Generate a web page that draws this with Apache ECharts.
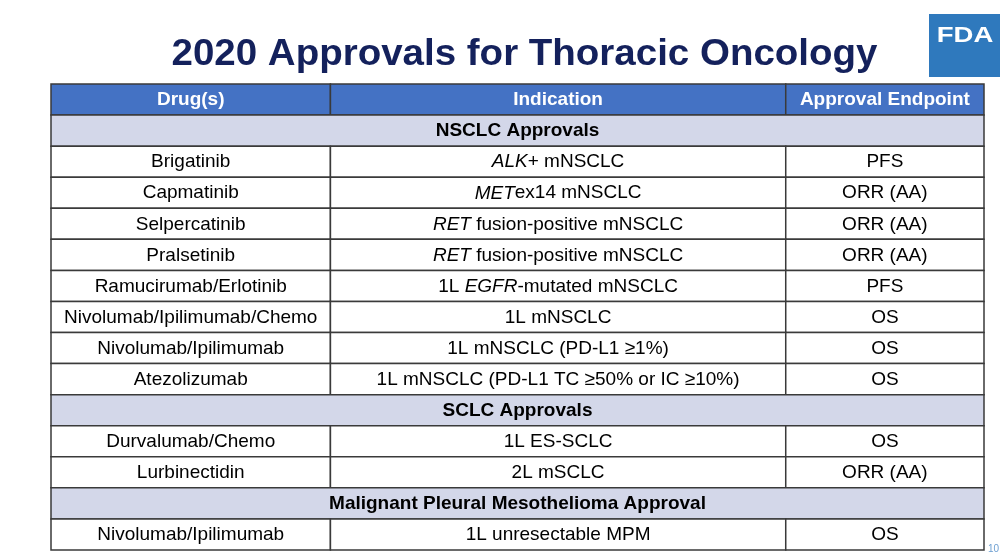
<!DOCTYPE html>
<html>
<head>
<meta charset="utf-8">
<script src="https://cdn.jsdelivr.net/npm/echarts@6/dist/echarts.min.js"></script>
<style>
html,body{margin:0;padding:0;background:#fff;}
#c{width:1004px;height:554px;}
</style>
</head>
<body>
<div id="c"></div>
<script>
// ---- data ----
const titleText = '2020 Approvals for Thoracic Oncology';
const headers = ['Drug(s)', 'Indication', 'Approval Endpoint'];
const sectionTitles = ['NSCLC Approvals', 'SCLC Approvals', 'Malignant Pleural Mesothelioma Approval'];
const drugs = [
  'Brigatinib', 'Capmatinib', 'Selpercatinib', 'Pralsetinib', 'Ramucirumab/Erlotinib',
  'Nivolumab/Ipilimumab/Chemo', 'Nivolumab/Ipilimumab', 'Atezolizumab',
  'Durvalumab/Chemo', 'Lurbinectidin',
  'Nivolumab/Ipilimumab'
];
const indications = [
  '{i|ALK}+ mNSCLC', '{i|MET}ex14 mNSCLC', '{i|RET} fusion-positive mNSCLC', '{i|RET} fusion-positive mNSCLC',
  '1L {i|EGFR}-mutated mNSCLC', '1L mNSCLC', '1L mNSCLC (PD-L1 \u22651%)', '1L mNSCLC (PD-L1 TC \u226550% or IC \u226510%)',
  '1L ES-SCLC', '2L mSCLC',
  '1L unresectable MPM'
];
const endpoints = [
  'PFS', 'ORR (AA)', 'ORR (AA)', 'ORR (AA)', 'PFS', 'OS', 'OS', 'OS',
  'OS', 'ORR (AA)',
  'OS'
];
const sectionOfDrug = [0, 0, 0, 0, 0, 0, 0, 0, 1, 1, 2];
const logoText = 'FDA';
const pageNumber = '10';

// ---- layout (column edges in percent of table width) ----
const colEdges = [0, 29.95, 78.75, 100];
const FONT = '"Liberation Sans", Arial, Helvetica, sans-serif';

// build cell list
const cells = [];
let row = 0;
headers.forEach((h, c) => cells.push({x0: colEdges[c], x1: colEdges[c + 1], row: row, kind: 'header', text: h}));
row++;
sectionTitles.forEach((s, si) => {
  cells.push({x0: 0, x1: 100, row: row, kind: 'section', text: s});
  row++;
  drugs.forEach((d, di) => {
    if (sectionOfDrug[di] !== si) return;
    const vals = [d, indications[di], endpoints[di]];
    vals.forEach((v, c) => cells.push({x0: colEdges[c], x1: colEdges[c + 1], row: row, kind: 'body', text: v}));
    row++;
  });
});
const totalRows = row;

const chart = echarts.init(document.getElementById('c'), null, {renderer: 'canvas'});
chart.setOption({
  animation: false,
  backgroundColor: '#ffffff',
  grid: {left: 51, right: 20, top: 84, bottom: 4},
  xAxis: {type: 'value', min: 0, max: 100, show: false},
  yAxis: {type: 'value', min: 0, max: totalRows, inverse: true, show: false},
  series: [{
    type: 'custom',
    coordinateSystem: 'cartesian2d',
    data: cells.map(c => [c.x0, c.x1, c.row]),
    renderItem: function (params, api) {
      const cell = cells[params.dataIndex];
      const p0 = api.coord([api.value(0), api.value(2)]);
      const p1 = api.coord([api.value(1), api.value(2) + 1]);
      const x = p0[0], y = p0[1], w = p1[0] - p0[0], h = p1[1] - p0[1];
      let fill = '#ffffff', color = '#000000', weight = 'normal';
      if (cell.kind === 'header') { fill = '#4472c4'; color = '#ffffff'; weight = 'bold'; }
      if (cell.kind === 'section') { fill = '#d3d7e9'; color = '#000000'; weight = 'bold'; }
      return {
        type: 'group',
        children: [
          {type: 'rect', shape: {x: x, y: y, width: w, height: h},
           style: {fill: fill, stroke: '#3a3a3a', lineWidth: 1.5}},
          {type: 'text', x: x + w / 2, y: y + h / 2 + 0.5,
           style: {
             text: cell.text, fill: color, fontFamily: FONT, fontSize: 19, fontWeight: weight,
             align: 'center', verticalAlign: 'middle',
             rich: {i: {fontStyle: 'italic', fontFamily: FONT, fontSize: 19, fill: color}}
           }}
        ]
      };
    }
  }],
  graphic: [
    {type: 'text', x: 524.5, y: 55, scaleY: 0.95,
     style: {text: titleText, fill: '#14215c', fontFamily: FONT, fontSize: 38.5, fontWeight: 'bold',
             align: 'center', verticalAlign: 'middle'}},
    {type: 'rect', shape: {x: 929, y: 14, width: 71, height: 63}, style: {fill: '#2f79bd'}},
    {type: 'text', x: 965, y: 36, scaleX: 1.25,
     style: {text: logoText, fill: '#ffffff', fontFamily: FONT, fontSize: 22, fontWeight: 'bold',
             align: 'center', verticalAlign: 'middle'}},
    {type: 'text', x: 988, y: 544, style: {text: pageNumber, fill: '#6d9fd1', fontFamily: FONT, fontSize: 10}}
  ]
});
</script>
</body>
</html>
